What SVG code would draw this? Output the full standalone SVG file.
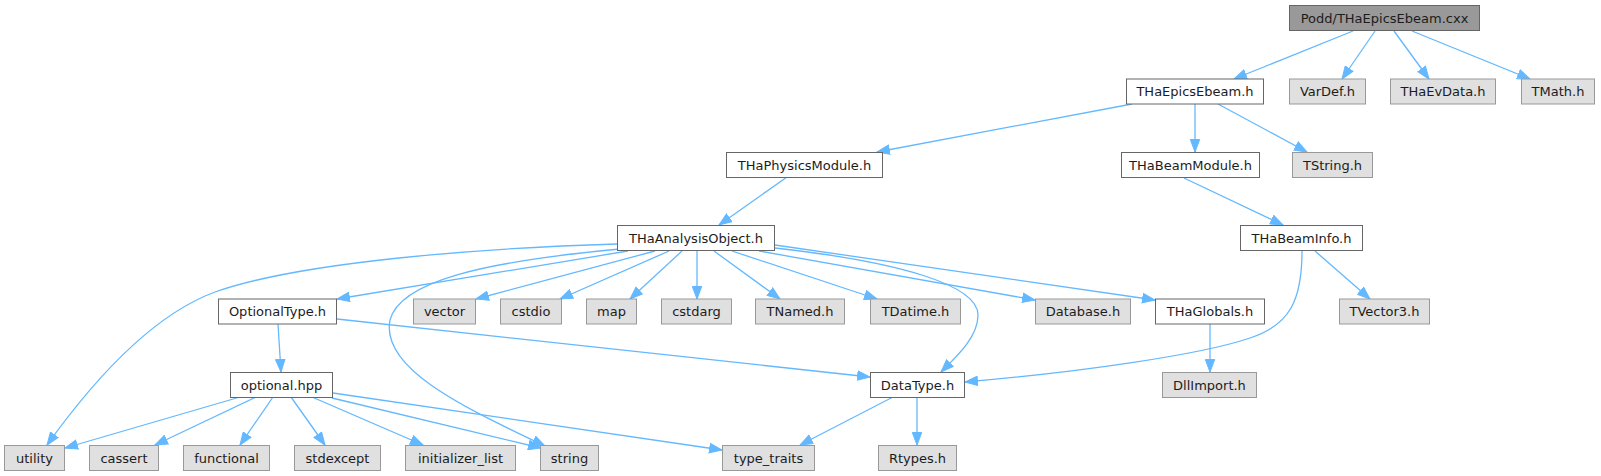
<svg xmlns="http://www.w3.org/2000/svg" width="1601" height="476" viewBox="0 0 1601 476">
<style>
.n rect{stroke-width:1}
.root rect{fill:#999999;stroke:#666666}
.w rect{fill:#ffffff;stroke:#666666}
.g rect{fill:#e0e0e0;stroke:#999999}
text{font-family:"DejaVu Sans","Liberation Sans",sans-serif;font-size:13px;fill:#1c1c1c;text-anchor:middle}
#edges path{fill:none;stroke:#63b8ff;stroke-width:1.3;marker-end:url(#a)}
</style>
<defs>
<marker id="a" markerWidth="14" markerHeight="11" refX="13" refY="5.5" orient="auto" markerUnits="userSpaceOnUse" viewBox="0 0 14 11"><path d="M0.5,0.8 L13,5.5 L0.5,10.2 z" fill="#63b8ff" stroke="#63b8ff" stroke-width="1"/></marker>
</defs>
<rect width="1601" height="476" fill="#ffffff"/>
<g id="edges">
<path d="M1353,31 L1234,79"/>
<path d="M1375,31 L1342,79"/>
<path d="M1394,31 L1429,79"/>
<path d="M1412,31 L1530,79"/>
<path d="M1132,104 L877,152"/>
<path d="M1195,104 L1195,152"/>
<path d="M1218,104 L1307,152"/>
<path d="M787,177 L719,225"/>
<path d="M1184,178 L1283,225"/>
<path d="M617,244 C480,248 300,262 215,292 C150,316 90,385 47,445"/>
<path d="M620,249 C480,262 400,282 390,320 C380,370 470,410 545,446"/>
<path d="M628,251 L337,299"/>
<path d="M655,251 L476,299"/>
<path d="M669,251 L560,299"/>
<path d="M682,251 L630,299"/>
<path d="M697,251 L697,299"/>
<path d="M714,251 L780,299"/>
<path d="M732,251 L877,299"/>
<path d="M759,251 L1035,300"/>
<path d="M775,245 L1155,300"/>
<path d="M775,248 C900,262 978,285 978,315 C978,338 955,358 941,372"/>
<path d="M1302,251 C1302,300 1290,325 1250,338 C1200,355 1080,372 965,382"/>
<path d="M1315,251 L1370,299"/>
<path d="M278,324 L281,372"/>
<path d="M337,319 L870,377"/>
<path d="M1210,324 L1210,372"/>
<path d="M240,397 L65,448"/>
<path d="M256,397 L155,445"/>
<path d="M273,397 L240,445"/>
<path d="M291,397 L325,445"/>
<path d="M312,397 L423,445"/>
<path d="M332,398 L541,448"/>
<path d="M333,393 L722,450"/>
<path d="M893,397 L800,445"/>
<path d="M917,397 L917,445"/>
</g>
<g id="n_cxx" class="n root"><rect x="1289.5" y="5.5" width="190" height="25"/><text x="1384.5" y="22.5">Podd/THaEpicsEbeam.cxx</text></g>
<g id="n_THaEpicsEbeam" class="n w"><rect x="1126.5" y="79" width="137" height="25"/><text x="1195" y="96">THaEpicsEbeam.h</text></g>
<g id="n_VarDef" class="n g"><rect x="1289.5" y="79" width="76" height="25"/><text x="1327.5" y="96">VarDef.h</text></g>
<g id="n_THaEvData" class="n g"><rect x="1390.5" y="79" width="105" height="25"/><text x="1443" y="96">THaEvData.h</text></g>
<g id="n_TMath" class="n g"><rect x="1521.5" y="79" width="73" height="25"/><text x="1558" y="96">TMath.h</text></g>
<g id="n_THaPhysicsModule" class="n w"><rect x="726.5" y="152.5" width="156" height="25"/><text x="804.5" y="169.5">THaPhysicsModule.h</text></g>
<g id="n_THaBeamModule" class="n w"><rect x="1121.5" y="152.5" width="138" height="25"/><text x="1190.5" y="169.5">THaBeamModule.h</text></g>
<g id="n_TString" class="n g"><rect x="1292.5" y="152.5" width="80" height="25"/><text x="1332.5" y="169.5">TString.h</text></g>
<g id="n_THaAnalysisObject" class="n w"><rect x="617.5" y="225.5" width="157" height="25"/><text x="696" y="242.5">THaAnalysisObject.h</text></g>
<g id="n_THaBeamInfo" class="n w"><rect x="1240.5" y="225.5" width="122" height="25"/><text x="1301.5" y="242.5">THaBeamInfo.h</text></g>
<g id="n_OptionalType" class="n w"><rect x="218.5" y="299" width="118" height="25"/><text x="277.5" y="316">OptionalType.h</text></g>
<g id="n_vector" class="n g"><rect x="413.5" y="299" width="62" height="25"/><text x="444.5" y="316">vector</text></g>
<g id="n_cstdio" class="n g"><rect x="500.5" y="299" width="61" height="25"/><text x="531" y="316">cstdio</text></g>
<g id="n_map" class="n g"><rect x="586.5" y="299" width="50" height="25"/><text x="611.5" y="316">map</text></g>
<g id="n_cstdarg" class="n g"><rect x="661.5" y="299" width="70" height="25"/><text x="696.5" y="316">cstdarg</text></g>
<g id="n_TNamed" class="n g"><rect x="755.5" y="299" width="89" height="25"/><text x="800" y="316">TNamed.h</text></g>
<g id="n_TDatime" class="n g"><rect x="870.5" y="299" width="90" height="25"/><text x="915.5" y="316">TDatime.h</text></g>
<g id="n_Database" class="n g"><rect x="1035.5" y="299" width="95" height="25"/><text x="1083" y="316">Database.h</text></g>
<g id="n_THaGlobals" class="n w"><rect x="1155.5" y="299" width="109" height="25"/><text x="1210" y="316">THaGlobals.h</text></g>
<g id="n_TVector3" class="n g"><rect x="1339.5" y="299" width="90" height="25"/><text x="1384.5" y="316">TVector3.h</text></g>
<g id="n_optional" class="n w"><rect x="230.5" y="372.5" width="102" height="25"/><text x="281.5" y="389.5">optional.hpp</text></g>
<g id="n_DataType" class="n w"><rect x="870.5" y="372.5" width="94" height="25"/><text x="917.5" y="389.5">DataType.h</text></g>
<g id="n_DllImport" class="n g"><rect x="1162.5" y="372.5" width="94" height="25"/><text x="1209.5" y="389.5">DllImport.h</text></g>
<g id="n_utility" class="n g"><rect x="4.5" y="445.5" width="60" height="25"/><text x="34.5" y="462.5">utility</text></g>
<g id="n_cassert" class="n g"><rect x="89.5" y="445.5" width="69" height="25"/><text x="124" y="462.5">cassert</text></g>
<g id="n_functional" class="n g"><rect x="183.5" y="445.5" width="86" height="25"/><text x="226.5" y="462.5">functional</text></g>
<g id="n_stdexcept" class="n g"><rect x="294.5" y="445.5" width="86" height="25"/><text x="337.5" y="462.5">stdexcept</text></g>
<g id="n_initializer_list" class="n g"><rect x="405.5" y="445.5" width="110" height="25"/><text x="460.5" y="462.5">initializer_list</text></g>
<g id="n_string" class="n g"><rect x="540.5" y="445.5" width="58" height="25"/><text x="569.5" y="462.5">string</text></g>
<g id="n_type_traits" class="n g"><rect x="722.5" y="445.5" width="92" height="25"/><text x="768.5" y="462.5">type_traits</text></g>
<g id="n_Rtypes" class="n g"><rect x="878.5" y="445.5" width="78" height="25"/><text x="917.5" y="462.5">Rtypes.h</text></g>
</svg>
